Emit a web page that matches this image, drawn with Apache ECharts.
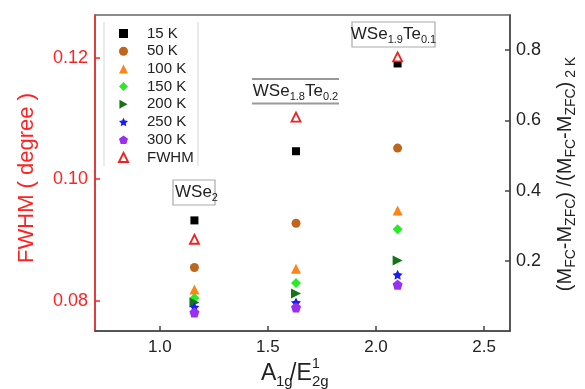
<!DOCTYPE html>
<html>
<head>
<meta charset="utf-8">
<script src="https://cdn.jsdelivr.net/npm/echarts@6/dist/echarts.min.js"></script>
<style>
html, body { margin: 0; padding: 0; background: #fff; }
#chart { width: 585px; height: 389px; }
</style>
</head>
<body>
<div id="chart"></div>
<script>
// x positions (A1g/E2g ratio) of the three samples
var ratio = [1.16, 1.63, 2.10];
// normalized magnetization, right axis
var k15 = [0.315, 0.512, 0.762];
var k50 = [0.181, 0.307, 0.521];
var k100 = [0.118, 0.177, 0.343];
var k150 = [0.094, 0.137, 0.290];
var k200 = [0.081, 0.107, 0.201];
var k250 = [0.068, 0.081, 0.160];
var k300 = [0.053, 0.067, 0.132];
// FWHM, left axis
var fwhm = [0.0901, 0.1102, 0.1201];

var xTicks = [1.0, 1.5, 2.0, 2.5];
var leftTicks = [0.08, 0.10, 0.12];
var rightTicks = [0.2, 0.4, 0.6, 0.8];

var STAR = 'path://M0,-10L2.94,-4.05L9.51,-3.09L4.76,1.55L5.88,8.09L0,5L-5.88,8.09L-4.76,1.55L-9.51,-3.09L-2.94,-4.05Z';
var PENTA = 'path://M0,-10L9.51,-3.09L5.88,8.09L-5.88,8.09L-9.51,-3.09Z';
var RTRI = 'path://M0,0L9,5L0,10Z';

function pts(ys) {
    return ratio.map(function (x, i) { return [x, ys[i]]; });
}

function ser(name, ys, symbol, color, size) {
    return {
        name: name,
        type: 'scatter',
        yAxisIndex: 1,
        data: pts(ys),
        symbol: symbol,
        symbolSize: size,
        itemStyle: { color: color, opacity: 1 }
    };
}

var dom = document.getElementById('chart');
var myChart = echarts.init(dom);

var font = 'Liberation Sans, Arial, sans-serif';

option = {
    animation: false,
    textStyle: { fontFamily: font },
    grid: {
        left: 95, right: 75, top: 15, bottom: 58,
        show: true, borderColor: '#666', borderWidth: 1.5
    },
    legend: {
        orient: 'vertical',
        left: 118,
        top: 25,
        padding: 0,
        itemWidth: 9,
        itemHeight: 9,
        itemGap: 0.7,
        textStyle: { fontSize: 15, color: '#222', lineHeight: 17, padding: [0, 0, 0, 14] },
        data: ['15 K', '50 K', '100 K', '150 K', '200 K', '250 K', '300 K', 'FWHM']
    },
    xAxis: {
        type: 'value',
        min: 0.7,
        max: 2.62,
        axisLine: { onZero: false, lineStyle: { color: '#444', width: 1.5 } },
        axisTick: { inside: true, length: 5, customValues: xTicks, lineStyle: { color: '#444', width: 1.5 } },
        axisLabel: {
            customValues: xTicks, color: '#222', fontSize: 17, margin: 8,
            formatter: function (v) { return v.toFixed(1); }
        },
        splitLine: { show: false }
    },
    yAxis: [
        {
            type: 'value',
            min: 0.075,
            max: 0.127,
            axisLine: { show: true, lineStyle: { color: '#ff2222', width: 1.5 } },
            axisTick: { show: true, inside: true, length: 5, customValues: leftTicks, lineStyle: { color: '#ff2222', width: 1.5 } },
            axisLabel: {
                customValues: leftTicks, color: '#ff2222', fontSize: 18, margin: 7,
                formatter: function (v) { return v.toFixed(2); }
            },
            splitLine: { show: false }
        },
        {
            type: 'value',
            position: 'right',
            min: 0,
            max: 0.9,
            axisLine: { show: true, lineStyle: { color: '#444', width: 1.5 } },
            axisTick: { show: true, inside: true, length: 5, customValues: rightTicks, lineStyle: { color: '#444', width: 1.5 } },
            axisLabel: {
                customValues: rightTicks, color: '#222', fontSize: 18, margin: 6,
                formatter: function (v) { return v.toFixed(1); }
            },
            splitLine: { show: false }
        }
    ],
    series: [
        ser('15 K', k15, 'rect', '#000000', 8),
        ser('50 K', k50, 'circle', '#c0651c', 9),
        ser('100 K', k100, 'triangle', '#ff8418', 10),
        ser('150 K', k150, 'diamond', '#22ee22', 10),
        ser('200 K', k200, RTRI, '#147514', 10),
        ser('250 K', k250, STAR, '#1a1aff', 10),
        ser('300 K', k300, PENTA, '#9b2ff0', 10),
        {
            name: 'FWHM',
            type: 'scatter',
            yAxisIndex: 0,
            data: pts(fwhm),
            symbol: 'triangle',
            symbolSize: 9,
            itemStyle: { color: '#ffffff', borderColor: '#ee2222', borderWidth: 1.8, opacity: 1 }
        }
    ],
    graphic: [
        // legend frame sides
        { type: 'line', shape: { x1: 104, y1: 22, x2: 104, y2: 166 }, style: { stroke: '#dddddd', lineWidth: 1.2 } },
        { type: 'line', shape: { x1: 198, y1: 22, x2: 198, y2: 166 }, style: { stroke: '#dddddd', lineWidth: 1.2 } },
        // WSe2 label
        { type: 'rect', shape: { x: 173, y: 180, width: 42, height: 25 }, style: { fill: '#fff', stroke: '#aaaaaa', lineWidth: 1.2 }, z: 10 },
        {
            type: 'text', x: 175, y: 192, z: 11,
            style: {
                text: '{m|WSe}{s|2}', align: 'left', verticalAlign: 'middle',
                rich: {
                    m: { fontSize: 17, lineHeight: 22, fill: '#222', fontFamily: font },
                    s: { fontSize: 11, lineHeight: 11, verticalAlign: 'bottom', fill: '#222', fontFamily: font }
                }
            }
        },
        // WSe1.8Te0.2 label
        { type: 'line', shape: { x1: 252, y1: 79, x2: 339, y2: 79 }, style: { stroke: '#999999', lineWidth: 2 }, z: 10 },
        { type: 'line', shape: { x1: 252, y1: 103.5, x2: 339, y2: 103.5 }, style: { stroke: '#999999', lineWidth: 2 }, z: 10 },
        {
            type: 'text', x: 295.5, y: 91, z: 11,
            style: {
                text: '{m|WSe}{s|1.8}{m|Te}{s|0.2}', align: 'center', verticalAlign: 'middle',
                rich: {
                    m: { fontSize: 17, lineHeight: 22, fill: '#222', fontFamily: font },
                    s: { fontSize: 11, lineHeight: 11, verticalAlign: 'bottom', fill: '#222', fontFamily: font }
                }
            }
        },
        // WSe1.9Te0.1 label
        { type: 'rect', shape: { x: 352, y: 22, width: 83, height: 25 }, style: { fill: '#fff', stroke: '#aaaaaa', lineWidth: 1.2 }, z: 10 },
        {
            type: 'text', x: 393.5, y: 34.5, z: 11,
            style: {
                text: '{m|WSe}{s|1.9}{m|Te}{s|0.1}', align: 'center', verticalAlign: 'middle',
                rich: {
                    m: { fontSize: 17, lineHeight: 22, fill: '#222', fontFamily: font },
                    s: { fontSize: 11, lineHeight: 11, verticalAlign: 'bottom', fill: '#222', fontFamily: font }
                }
            }
        },
        // left axis title
        {
            type: 'text', x: 27, y: 178, rotation: Math.PI / 2,
            style: { text: 'FWHM ( degree )', fill: '#ff2222', fontSize: 22, fontFamily: font, align: 'center', verticalAlign: 'middle' }
        },
        // right axis title
        {
            type: 'text', x: 565, y: 174, rotation: Math.PI / 2,
            style: {
                text: '{m|(M}{s|FC}{m|-M}{s|ZFC}{m|) /(M}{s|FC}{m|-M}{s|ZFC}{m|)}{s| 2 K}',
                align: 'center', verticalAlign: 'middle',
                rich: {
                    m: { fontSize: 20, lineHeight: 26, fill: '#222', fontFamily: font },
                    s: { fontSize: 14, lineHeight: 14, verticalAlign: 'bottom', fill: '#222', fontFamily: font }
                }
            }
        },
        // x axis title A1g/E^1_2g
        { type: 'text', x: 261, y: 374, style: { text: 'A', fill: '#222', fontSize: 23, fontFamily: font, align: 'left', verticalAlign: 'middle' } },
        { type: 'text', x: 276, y: 382, style: { text: '1g', fill: '#222', fontSize: 15, fontFamily: font, align: 'left', verticalAlign: 'middle' } },
        { type: 'text', x: 290, y: 374, style: { text: '/E', fill: '#222', fontSize: 23, fontFamily: font, align: 'left', verticalAlign: 'middle' } },
        { type: 'text', x: 312, y: 364, style: { text: '1', fill: '#222', fontSize: 14, fontFamily: font, align: 'left', verticalAlign: 'middle' } },
        { type: 'text', x: 312, y: 382, style: { text: '2g', fill: '#222', fontSize: 15, fontFamily: font, align: 'left', verticalAlign: 'middle' } }
    ]
};

if (option && typeof option === 'object') {
    myChart.setOption(option, true);
}
</script>
</body>
</html>
